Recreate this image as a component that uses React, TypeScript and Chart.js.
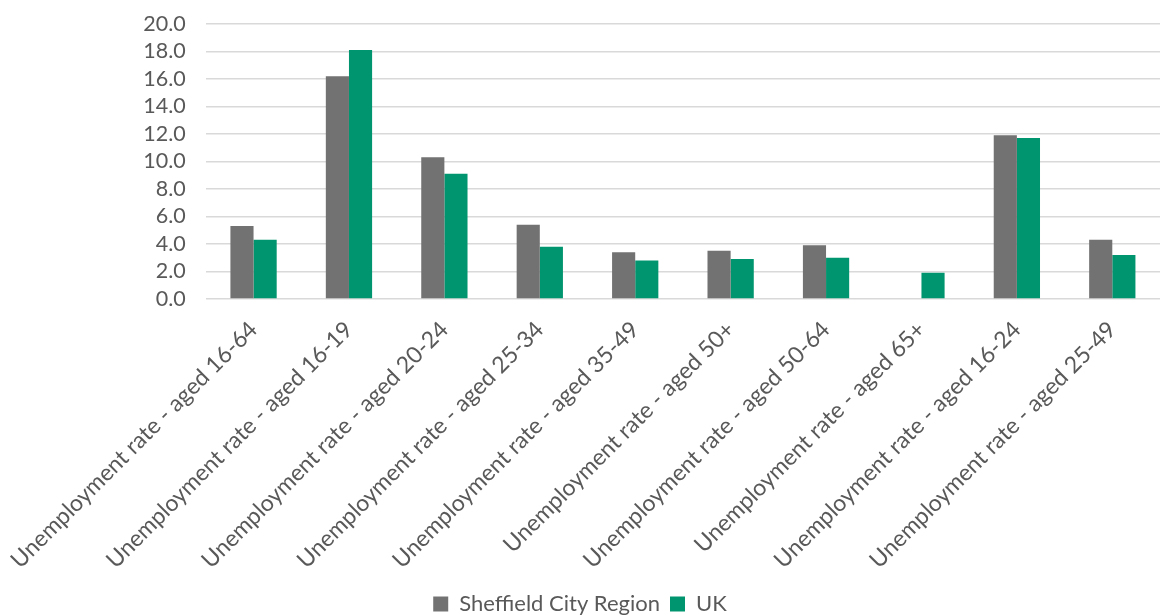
import React, { useEffect, useRef } from "react";
import { Chart, registerables } from "chart.js";

Chart.register(...registerables);

const categories = [
  "Unemployment rate - aged 16-64",
  "Unemployment rate - aged 16-19",
  "Unemployment rate - aged 20-24",
  "Unemployment rate - aged 25-34",
  "Unemployment rate - aged 35-49",
  "Unemployment rate - aged 50+",
  "Unemployment rate - aged 50-64",
  "Unemployment rate - aged 65+",
  "Unemployment rate - aged 16-24",
  "Unemployment rate - aged 25-49",
];

const sheffieldValues: (number | null)[] = [5.3, 16.2, 10.3, 5.4, 3.4, 3.5, 3.9, null, 11.9, 4.3];
const ukValues: number[] = [4.3, 18.1, 9.1, 3.8, 2.8, 2.9, 3.0, 1.9, 11.7, 3.2];

const seriesNames = ["Sheffield City Region", "UK"];
const seriesColors = ["#717271", "#00956E"];

const FONT = "Lato, 'Open Sans', sans-serif";
const TEXT = "#595959";

export default function App() {
  const ref = useRef<HTMLCanvasElement | null>(null);

  useEffect(() => {
    if (!ref.current) return;
    const chart = new Chart(ref.current, {
      type: "bar",
      data: {
        labels: categories,
        datasets: [
          {
            label: seriesNames[0],
            data: sheffieldValues,
            backgroundColor: seriesColors[0],
            categoryPercentage: 0.485,
            barPercentage: 1,
          },
          {
            label: seriesNames[1],
            data: ukValues,
            backgroundColor: seriesColors[1],
            categoryPercentage: 0.485,
            barPercentage: 1,
          },
        ],
      },
      options: {
        animation: false,
        responsive: true,
        maintainAspectRatio: false,
        layout: { padding: { top: 24, right: 2, left: 0, bottom: -10 } },
        plugins: {
          legend: {
            position: "bottom",
            labels: {
              color: TEXT,
              font: { family: FONT, size: 22 },
              boxWidth: 15,
              boxHeight: 15,
              padding: 10,
            },
          },
          tooltip: { enabled: false },
        },
        scales: {
          x: {
            grid: { display: false },
            border: { display: false },
            afterFit: (scale: any) => {
              scale.paddingLeft = Math.max(0, scale.paddingLeft + 2);
            },
            ticks: {
              color: TEXT,
              font: { family: FONT, size: 23 },
              minRotation: 45,
              maxRotation: 45,
              autoSkip: false,
              padding: 9,
            },
          },
          y: {
            min: 0,
            max: 20,
            border: { display: false },
            grid: { color: "#d9d9d9", lineWidth: 1.5, drawTicks: false },
            afterFit: (scale: any) => {
              scale.paddingTop = 0;
              scale.paddingBottom = 0;
            },
            ticks: {
              stepSize: 2,
              autoSkip: false,
              color: TEXT,
              font: { family: FONT, size: 21.5 },
              padding: 20,
              callback: (v: any) => Number(v).toFixed(1),
            },
          },
        },
      },
    });
    return () => chart.destroy();
  }, []);

  return (
    <div style={{ position: "fixed", left: 0, top: 0, width: 1162, height: 615, background: "#fff" }}>
      <canvas ref={ref} />
    </div>
  );
}
